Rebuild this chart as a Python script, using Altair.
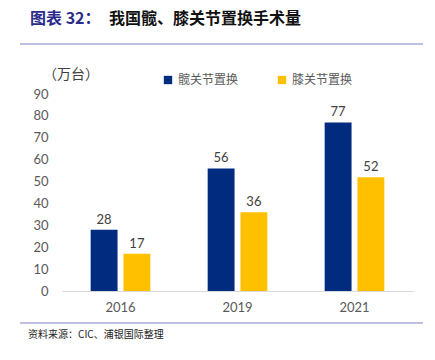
import altair as alt
import pandas as pd

years = ["2016", "2019", "2021"]
series = ["髋关节置换", "膝关节置换"]
hip = [28, 56, 77]
knee = [17, 36, 52]
colors = ["#002B7F", "#FFC000"]
y_ticks = [0, 10, 20, 30, 40, 50, 60, 70, 80, 90]

rows = []
for i, y in enumerate(years):
    rows.append({"year": y, "series": series[0], "value": hip[i]})
    rows.append({"year": y, "series": series[1], "value": knee[i]})
df = pd.DataFrame(rows)

CJK = "Noto Sans CJK SC"
NUM = "Lato"

x_enc = alt.X("year:N", sort=years,
              scale=alt.Scale(paddingInner=0.49, paddingOuter=0.245),
              axis=alt.Axis(title=None, labelAngle=0, labelFont=NUM, labelFontSize=13,
                            labelColor="#595959", labelPadding=10, ticks=False, grid=False,
                            domainColor="#D9D9D9", domainWidth=1))
xo_enc = alt.XOffset("series:N", sort=series, scale=alt.Scale(paddingInner=0.18, paddingOuter=0))
y_enc = alt.Y("value:Q", scale=alt.Scale(domain=[0, 90], nice=False),
              axis=alt.Axis(title=None, values=y_ticks, grid=False, domain=False, ticks=False,
                            labelFont=NUM, labelFontSize=13, labelColor="#595959", labelPadding=14))

base = alt.Chart(df)
bars = base.mark_bar().encode(
    x=x_enc, xOffset=xo_enc, y=y_enc,
    color=alt.Color("series:N", sort=series, scale=alt.Scale(domain=series, range=colors),
                    legend=alt.Legend(title=None, orient="none", legendX=100, legendY=-20,
                                      direction="horizontal", symbolType="square", symbolSize=70,
                                      labelFont=CJK, labelFontSize=12, labelColor="#595959",
                                      columnPadding=37, labelOffset=4, symbolStrokeWidth=0)),
)
labels = base.mark_text(dy=-10, font=NUM, fontSize=13, color="#404040").encode(
    x=x_enc, xOffset=xo_enc, y=y_enc, text=alt.Text("value:Q"))

title_prefix = ["图表 32："]
title_main = ["我国髋、膝关节置换手术量"]
unit_label = ["（万台）"]
source_note = ["资料来源：CIC、浦银国际整理"]

t1 = alt.Chart(pd.DataFrame({"t": title_prefix})).mark_text(
    align="left", baseline="middle", font=CJK, fontSize=16, fontWeight="bold", color="#2B2B8C"
).encode(x=alt.value(-32), y=alt.value(-75), text="t:N")
t2 = alt.Chart(pd.DataFrame({"t": title_main})).mark_text(
    align="left", baseline="middle", font=CJK, fontSize=16, fontWeight="bold", color="#111111"
).encode(x=alt.value(47), y=alt.value(-75), text="t:N")
t3 = alt.Chart(pd.DataFrame({"t": unit_label})).mark_text(
    align="left", baseline="middle", font=CJK, fontSize=14, color="#404040"
).encode(x=alt.value(-19), y=alt.value(-19), text="t:N")
t4 = alt.Chart(pd.DataFrame({"t": source_note})).mark_text(
    align="left", baseline="middle", font=CJK, fontSize=10, color="#222222"
).encode(x=alt.value(-34), y=alt.value(241), text="t:N")

line_top = alt.Chart(pd.DataFrame({"a": [0]})).mark_rule(color="#8080C0", strokeWidth=1.2).encode(
    x=alt.value(-42), x2=alt.value(361), y=alt.value(-50))
line_bot = alt.Chart(pd.DataFrame({"a": [0]})).mark_rule(color="#8080C0", strokeWidth=1.2).encode(
    x=alt.value(-42), x2=alt.value(361), y=alt.value(229))

chart = alt.layer(bars, labels, t1, t2, t3, t4, line_top, line_bot).properties(
    width=351, height=197,
    autosize=alt.AutoSizeParams(type="none"),
    padding={"left": 54, "top": 86, "right": 14, "bottom": 61},
    background="white",
).configure_view(stroke="transparent", strokeWidth=0).configure_axis(grid=False)

chart.save("out.html", embed_options={"renderer": "svg", "actions": False})
